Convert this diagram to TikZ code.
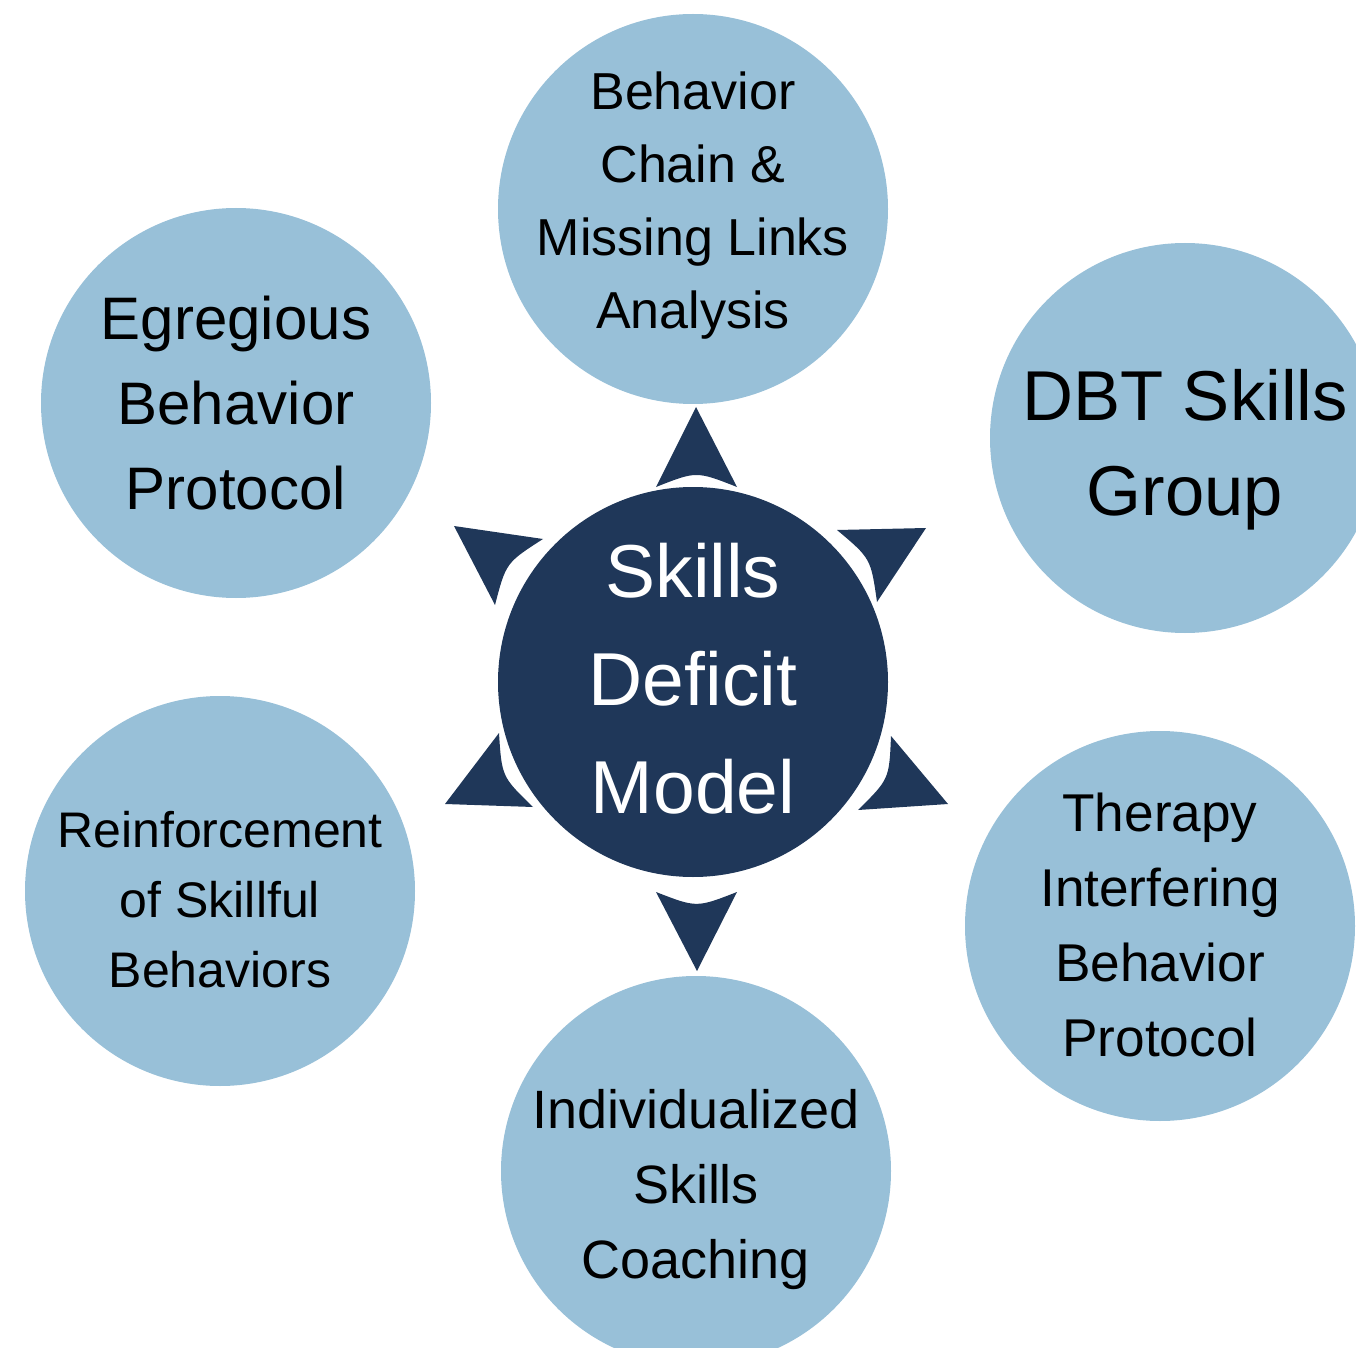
\documentclass[tikz,border=0pt]{standalone}
\usepackage{fontspec}
\setmainfont{Liberation Sans}
\usetikzlibrary{calc}

\definecolor{discblue}{RGB}{152,192,216}
\definecolor{hubnavy}{RGB}{31,55,89}

\newcommand\txtsize[2]{\fontsize{#1}{#2}\selectfont}

\begin{document}
\begin{tikzpicture}[x=0.5pt,y=-0.5pt,
    disc/.style={circle,fill=discblue,minimum size=195pt,inner sep=0pt},
    hub/.style={circle,fill=hubnavy,minimum size=195pt,inner sep=0pt},
    lbl/.style={align=center,inner sep=0pt}]
    \useasboundingbox (0,0) rectangle (1356,1348);
    \clip (0,0) rectangle (1356,1348);
    % Rays round the hub
    \foreach \ax/\ay/\bx/\by/\cx/\cy in {696/407/656/487/737/487,
        926/528/837/530/877/602, 948/804/891/736/858/810,
        697/971/737/892/656/892, 445/804/499/733/533/807,
        454/526/543/539/495/605} {
        \fill[hubnavy] (\ax,\ay) -- (\bx,\by)
            .. controls ($(\bx,\by)!0.5!(\cx,\cy)!0.2!(\ax,\ay)$) .. (\cx,\cy) -- cycle;
    }
    % Hub
    \node[hub] (hub) at (693,682) {};
    \node[lbl,text=white,font=\txtsize{37.5}{54}] (hubtxt) at (693,679)
        {Skills\\Deficit\\Model};
    % Outer circles
    \node[disc] (chain)     at (693,209)  {};
    \node[disc] (egregious) at (236,403)  {};
    \node[disc] (dbt)       at (1185,438) {};
    \node[disc] (reinforce) at (220,891)  {};
    \node[disc] (therapy)   at (1160,926) {};
    \node[disc] (coaching)  at (696,1171) {};
    % Labels
    \node[lbl,font=\txtsize{26}{36.5}] (chaintxt) at (693,206)
        {Behavior\\Chain \&\\Missing Links\\Analysis};
    \node[lbl,font=\txtsize{30}{42.5}] (egregioustxt) at (236,403)
        {Egregious\\Behavior\\Protocol};
    \node[lbl,font=\txtsize{35.3}{47.5}] (dbttxt) at (1185,450)
        {DBT Skills\\Group};
    \node[lbl,font=\txtsize{25}{35}] (reinforcetxt) at (220,900)
        {Reinforcement\\of Skillful\\Behaviors};
    \node[lbl,font=\txtsize{26.6}{37.5}] (therapytxt) at (1160,925)
        {Therapy\\Interfering\\Behavior\\Protocol};
    \node[lbl,font=\txtsize{27}{37.5}] (coachingtxt) at (696,1190)
        {Individualized\\Skills\\Coaching};
\end{tikzpicture}
\end{document}
